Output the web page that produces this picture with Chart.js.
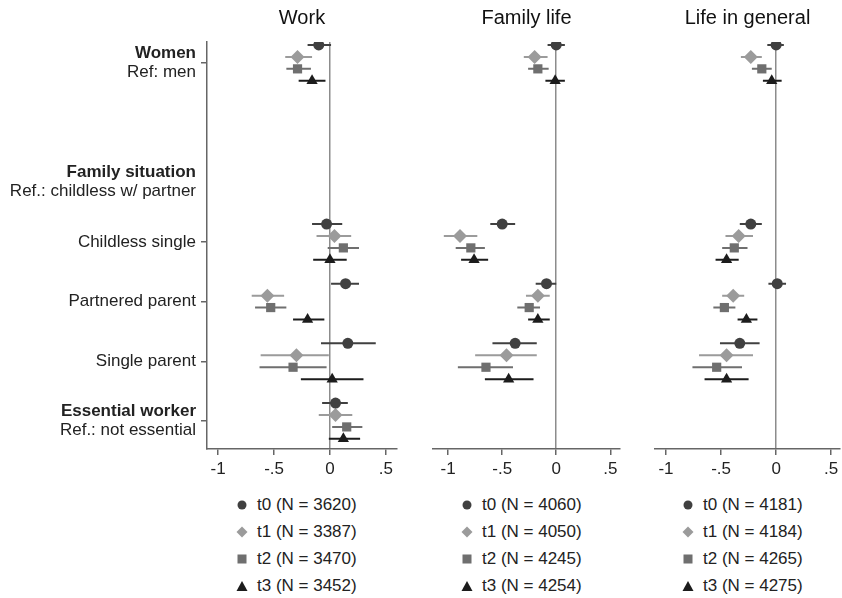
<!DOCTYPE html>
<html>
<head>
<meta charset="utf-8">
<script src="https://cdn.jsdelivr.net/npm/chart.js@4.4.1/dist/chart.umd.min.js"></script>
<style>
body { margin: 0; background: #fff; font-family: "Liberation Sans", Arial, sans-serif; }
#wrap { position: relative; width: 842px; height: 598px; overflow: hidden; }
canvas { position: absolute; top: 0; }
.legend { position: absolute; top: 491px; font-size: 17px; color: #222; }
.legend div { height: 27.2px; display: flex; align-items: center; white-space: nowrap; }
.legend svg { margin-right: 9px; }
</style>
</head>
<body>
<div id="wrap">
  <canvas id="workChart"></canvas>
  <canvas id="familyChart"></canvas>
  <canvas id="lifeChart"></canvas>
  <div class="legend" id="workLegend"></div>
  <div class="legend" id="familyLegend"></div>
  <div class="legend" id="lifeLegend"></div>
</div>
<script>
// rows on the y axis (position 2 is the "Family situation" header, 1 is empty)
const rowPos = [0, 3, 4, 5, 6];
const waveNames = ['t0', 't1', 't2', 't3'];
const waveOffset = [-0.3, -0.1, 0.1, 0.3];
const xTicks = [-1, -0.5, 0, 0.5];

const workN = [3620, 3387, 3470, 3452];
const familyN = [4060, 4050, 4245, 4254];
const lifeN = [4181, 4184, 4265, 4275];

// [wave][row]: women, childless single, partnered parent, single parent, essential worker
const workCoef = [
    [-0.10, -0.03, 0.14, 0.16, 0.05],
    [-0.29, 0.04, -0.56, -0.30, 0.05],
    [-0.29, 0.12, -0.53, -0.33, 0.15],
    [-0.16, 0.00, -0.20, 0.02, 0.12]
];
const workLo = [
    [-0.20, -0.16, 0.01, -0.08, -0.07],
    [-0.40, -0.12, -0.70, -0.62, -0.10],
    [-0.39, -0.02, -0.67, -0.63, 0.02],
    [-0.28, -0.15, -0.33, -0.26, -0.01]
];
const workHi = [
    [0.01, 0.11, 0.26, 0.41, 0.16],
    [-0.16, 0.19, -0.41, -0.01, 0.20],
    [-0.17, 0.26, -0.39, -0.03, 0.29],
    [-0.04, 0.15, -0.05, 0.30, 0.27]
];

const familyCoef = [
    [0.00, -0.50, -0.09, -0.38],
    [-0.20, -0.89, -0.17, -0.46],
    [-0.17, -0.79, -0.25, -0.65],
    [-0.01, -0.76, -0.17, -0.44]
];
const familyLo = [
    [-0.08, -0.61, -0.19, -0.59],
    [-0.30, -1.04, -0.28, -0.75],
    [-0.26, -0.93, -0.36, -0.91],
    [-0.10, -0.88, -0.26, -0.66]
];
const familyHi = [
    [0.08, -0.38, 0.00, -0.18],
    [-0.08, -0.73, -0.06, -0.18],
    [-0.07, -0.66, -0.15, -0.40],
    [0.08, -0.63, -0.06, -0.21]
];

const lifeCoef = [
    [0.00, -0.23, 0.01, -0.33],
    [-0.23, -0.34, -0.39, -0.45],
    [-0.13, -0.38, -0.47, -0.54],
    [-0.04, -0.45, -0.27, -0.45]
];
const lifeLo = [
    [-0.08, -0.33, -0.07, -0.51],
    [-0.32, -0.46, -0.49, -0.70],
    [-0.22, -0.49, -0.57, -0.76],
    [-0.12, -0.55, -0.35, -0.65]
];
const lifeHi = [
    [0.07, -0.13, 0.09, -0.15],
    [-0.13, -0.21, -0.29, -0.21],
    [-0.04, -0.26, -0.37, -0.31],
    [0.05, -0.34, -0.17, -0.25]
];

// marker look per wave
const waveColor = ['#404040', '#9b9b9b', '#6f6f6f', '#1c1c1c'];
const waveStyle = ['circle', 'rectRot', 'rect', 'triangle'];
const waveRadius = [5.5, 7, 6.5, 6.5];

const FONT = '"Liberation Sans", Arial, sans-serif';

// y labels for the left panel
const yLabels = [
    { pos: 0, lines: [['Women', true], ['Ref: men', false]] },
    { pos: 2, lines: [['Family situation', true], ['Ref.: childless w/ partner', false]] },
    { pos: 3, lines: [['Childless single', false]] },
    { pos: 4, lines: [['Partnered parent', false]] },
    { pos: 5, lines: [['Single parent', false]] },
    { pos: 6, lines: [['Essential worker', true], ['Ref.: not essential', false]] }
];

const titlePlugin = {
    id: 'panelTitle',
    afterDraw(chart, args, opts) {
        const ctx = chart.ctx, a = chart.chartArea;
        ctx.save();
        ctx.font = '20px ' + FONT;
        ctx.fillStyle = '#111';
        ctx.textAlign = 'center';
        ctx.textBaseline = 'middle';
        ctx.fillText(opts.text, (a.left + a.right) / 2, 18);
        ctx.restore();
    }
};

const yLabelPlugin = {
    id: 'yLabels',
    afterDraw(chart, args, opts) {
        if (!opts.show) return;
        const ctx = chart.ctx, y = chart.scales.y;
        const x = chart.chartArea.left - 11;
        ctx.save();
        ctx.fillStyle = '#222';
        ctx.textAlign = 'right';
        ctx.textBaseline = 'middle';
        yLabels.forEach(function(lab) {
            const cy = y.getPixelForValue(lab.pos);
            const n = lab.lines.length;
            lab.lines.forEach(function(line, i) {
                ctx.font = (line[1] ? 'bold ' : '') + '17px ' + FONT;
                ctx.fillText(line[0], x, cy + (i - (n - 1) / 2) * 19);
            });
        });
        ctx.restore();
    }
};

function fmtTick(v) {
    if (v === 0) return '0';
    return String(v).replace('0.', '.');
}

function makePanel(id, left, width, padLeft, padRight, xMin, xMax, title, coef, lo, hi, showY) {
    const canvas = document.getElementById(id);
    canvas.style.left = left + 'px';
    canvas.width = width;
    canvas.height = 480;
    canvas.style.width = width + 'px';
    canvas.style.height = '480px';

    const datasets = [];
    for (let w = 0; w < 4; w++) {
        const bars = [];
        const pts = [];
        coef[w].forEach(function(v, r) {
            const yy = rowPos[r] + waveOffset[w];
            bars.push({ x: lo[w][r], y: yy }, { x: hi[w][r], y: yy }, { x: null, y: null });
            pts.push({ x: v, y: yy });
        });
        datasets.push({
            label: waveNames[w] + ' ci',
            data: bars,
            showLine: true,
            spanGaps: false,
            borderColor: waveColor[w],
            borderWidth: 2,
            pointRadius: 0,
            order: 2
        });
        datasets.push({
            label: waveNames[w],
            data: pts,
            pointStyle: waveStyle[w],
            pointRadius: waveRadius[w],
            backgroundColor: waveColor[w],
            borderColor: waveColor[w],
            borderWidth: 0,
            order: 1
        });
    }

    return new Chart(canvas, {
        type: 'scatter',
        data: { datasets: datasets },
        options: {
            responsive: false,
            animation: false,
            devicePixelRatio: 1,
            layout: { padding: { top: 42, left: padLeft, right: padRight, bottom: 0 } },
            plugins: {
                legend: { display: false },
                tooltip: { enabled: false },
                panelTitle: { text: title },
                yLabels: { show: showY }
            },
            scales: {
                x: {
                    type: 'linear',
                    min: xMin,
                    max: xMax,
                    afterBuildTicks: function(s) { s.ticks = xTicks.map(function(v) { return { value: v }; }); },
                    afterFit: function(s) { s.height = 31; },
                    ticks: {
                        callback: fmtTick,
                        color: '#222',
                        font: { family: FONT, size: 17 },
                        padding: 4,
                        maxRotation: 0
                    },
                    grid: {
                        color: function(c) { return c.tick && c.tick.value === 0 ? '#8c8c8c' : 'rgba(0,0,0,0)'; },
                        lineWidth: 1.5,
                        tickColor: '#666',
                        tickLength: 6
                    },
                    border: { display: true, color: '#666', width: 1.5 }
                },
                y: {
                    type: 'linear',
                    display: showY,
                    reverse: true,
                    min: -0.35,
                    max: 6.47,
                    afterBuildTicks: function(s) { s.ticks = rowPos.map(function(v) { return { value: v }; }); },
                    afterFit: function(s) { s.width = showY ? 207 : 0; },
                    ticks: { callback: function() { return ''; } },
                    grid: { drawOnChartArea: false, tickColor: '#666', tickLength: 6, lineWidth: 1.5 },
                    border: { display: true, color: '#666', width: 1.5 }
                }
            }
        },
        plugins: [titlePlugin, yLabelPlugin]
    });
}

const shapes = [
    '<circle cx="6" cy="6" r="4.5" fill="#404040"/>',
    '<polygon points="6,0.5 11.5,6 6,11.5 0.5,6" fill="#9b9b9b"/>',
    '<rect x="1.5" y="1.5" width="9" height="9" fill="#6f6f6f"/>',
    '<polygon points="6,1 11.5,11 0.5,11" fill="#1c1c1c"/>'
];

function makeLegend(id, left, counts) {
    const el = document.getElementById(id);
    el.style.left = left + 'px';
    el.innerHTML = waveNames.map(function(name, i) {
        return '<div><svg width="12" height="12" viewBox="0 0 12 12">' + shapes[i] + '</svg>' +
            name + ' (N = ' + counts[i] + ')</div>';
    }).join('');
}

makePanel('workChart', 0, 412, 0, 15, -1.1, 0.6, 'Work', workCoef, workLo, workHi, true);
makePanel('familyChart', 425, 210, 8, 15, -1.14, 0.59, 'Family life', familyCoef, familyLo, familyHi, false);
makePanel('lifeChart', 647, 205, 8, 12, -1.1, 0.58, 'Life in general', lifeCoef, lifeLo, lifeHi, false);

makeLegend('workLegend', 236, workN);
makeLegend('familyLegend', 461, familyN);
makeLegend('lifeLegend', 682, lifeN);
</script>
</body>
</html>
